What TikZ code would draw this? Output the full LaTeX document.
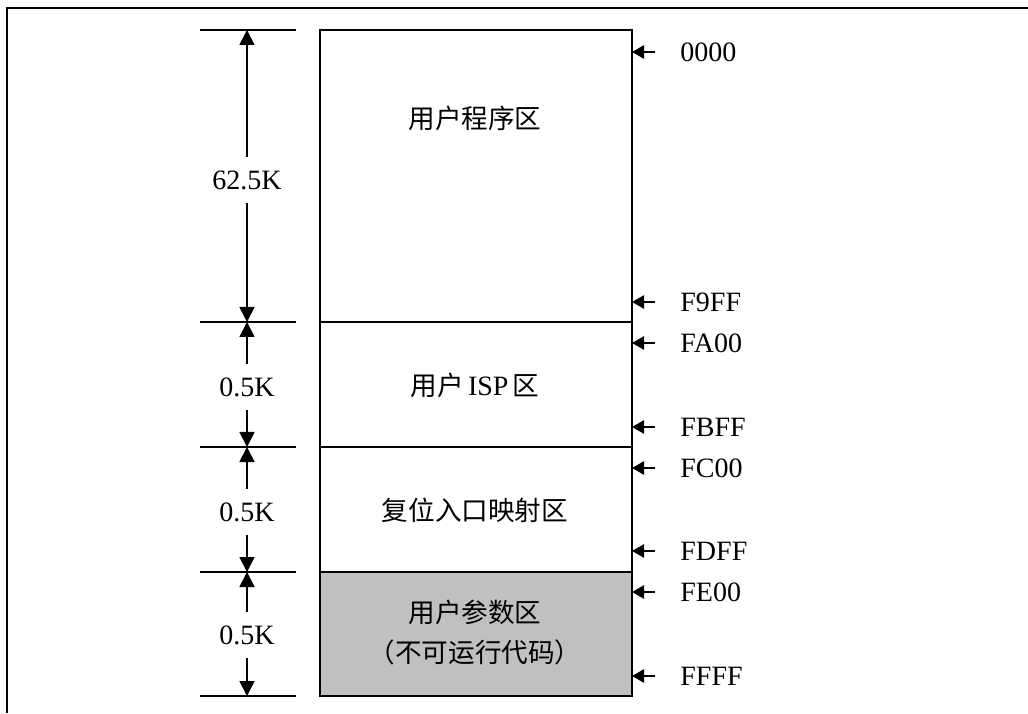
\documentclass[tikz,border=0pt]{standalone}
\usepackage{fontspec}
\setmainfont{Liberation Serif}
\newfontfamily\cjk{Noto Sans CJK SC}[Scale=0.95]
\usetikzlibrary{arrows.meta}
\usetikzlibrary{positioning}
\definecolor{paramgray}{RGB}{192,192,192}

\tikzset{
  region/.style = {draw, line width=0.9pt, minimum width=156pt, inner sep=0pt, outer sep=0pt, anchor=north west},
  rlabel/.style = {font=\fontsize{14pt}{17pt}\selectfont\cjk},
  dimlabel/.style = {font=\fontsize{14pt}{17pt}\selectfont, inner ysep=6.5pt},
  dimarrow/.style = {line width=0.9pt, -{Triangle[width=7.5pt,length=7.5pt]}},
  addr/.style = {font=\fontsize{14pt}{17pt}\selectfont, anchor=west, inner xsep=12.5pt, inner ysep=0pt},
  addrarrow/.style = {line width=1.2pt, -{Triangle[width=6.5pt,length=6pt]}},
}

\begin{document}
\begin{tikzpicture}[x=0.5pt, y=0.5pt]
  \useasboundingbox (0,0) rectangle (1028,713);
  % frame
  \draw[line width=1.2pt] (7,0) -- (7,705) -- (1028,705);

  % memory regions
  \node[region, minimum height=146pt] (prog) at (320,683) {};
  \node[region, minimum height=62.5pt] (isp) at (prog.south west) {};
  \node[region, minimum height=62.5pt] (reset) at (isp.south west) {};
  \node[region, minimum height=62pt, fill=paramgray] (param) at (reset.south west) {};

  \node[rlabel] (progtxt) at (475,595) {用户程序区};
  \node[rlabel] (isptxt) at (475,328) {用户\,{\rmfamily ISP}\,区};
  \node[rlabel] (resettxt) at (475,203) {复位入口映射区};
  \node[rlabel] (paramtxt) at (475,101) {用户参数区};
  \node[rlabel] (paramnote) at (475,61) {（不可运行代码）};

  % size ticks
  \foreach \y [count=\i from 0] in {683,391,266,141,17}{
    \draw[line width=0.9pt] (200,\y) -- (296,\y);
    \coordinate (t\i) at (247,\y);
  }

  % size labels
  \node[dimlabel] (s0) at (247,533) {62.5K};
  \node[dimlabel] (s1) at (247,326) {0.5K};
  \node[dimlabel] (s2) at (247,201) {0.5K};
  \node[dimlabel] (s3) at (247,78) {0.5K};
  \foreach \i/\j in {0/1,1/2,2/3,3/4}{
    \draw[dimarrow] (s\i.north) -- (t\i);
    \draw[dimarrow] (s\i.south) -- (t\j);
  }

  % addresses
  \foreach \y/\a in {661/0000,411/F9FF,370/FA00,286/FBFF,245/FC00,162/FDFF,121/FE00,37/FFFF}{
    \node[addr] (a\a) at (655,\y) {\a};
    \draw[addrarrow] (a\a.west) -- (a\a.west -| prog.east);
  }
\end{tikzpicture}
\end{document}
